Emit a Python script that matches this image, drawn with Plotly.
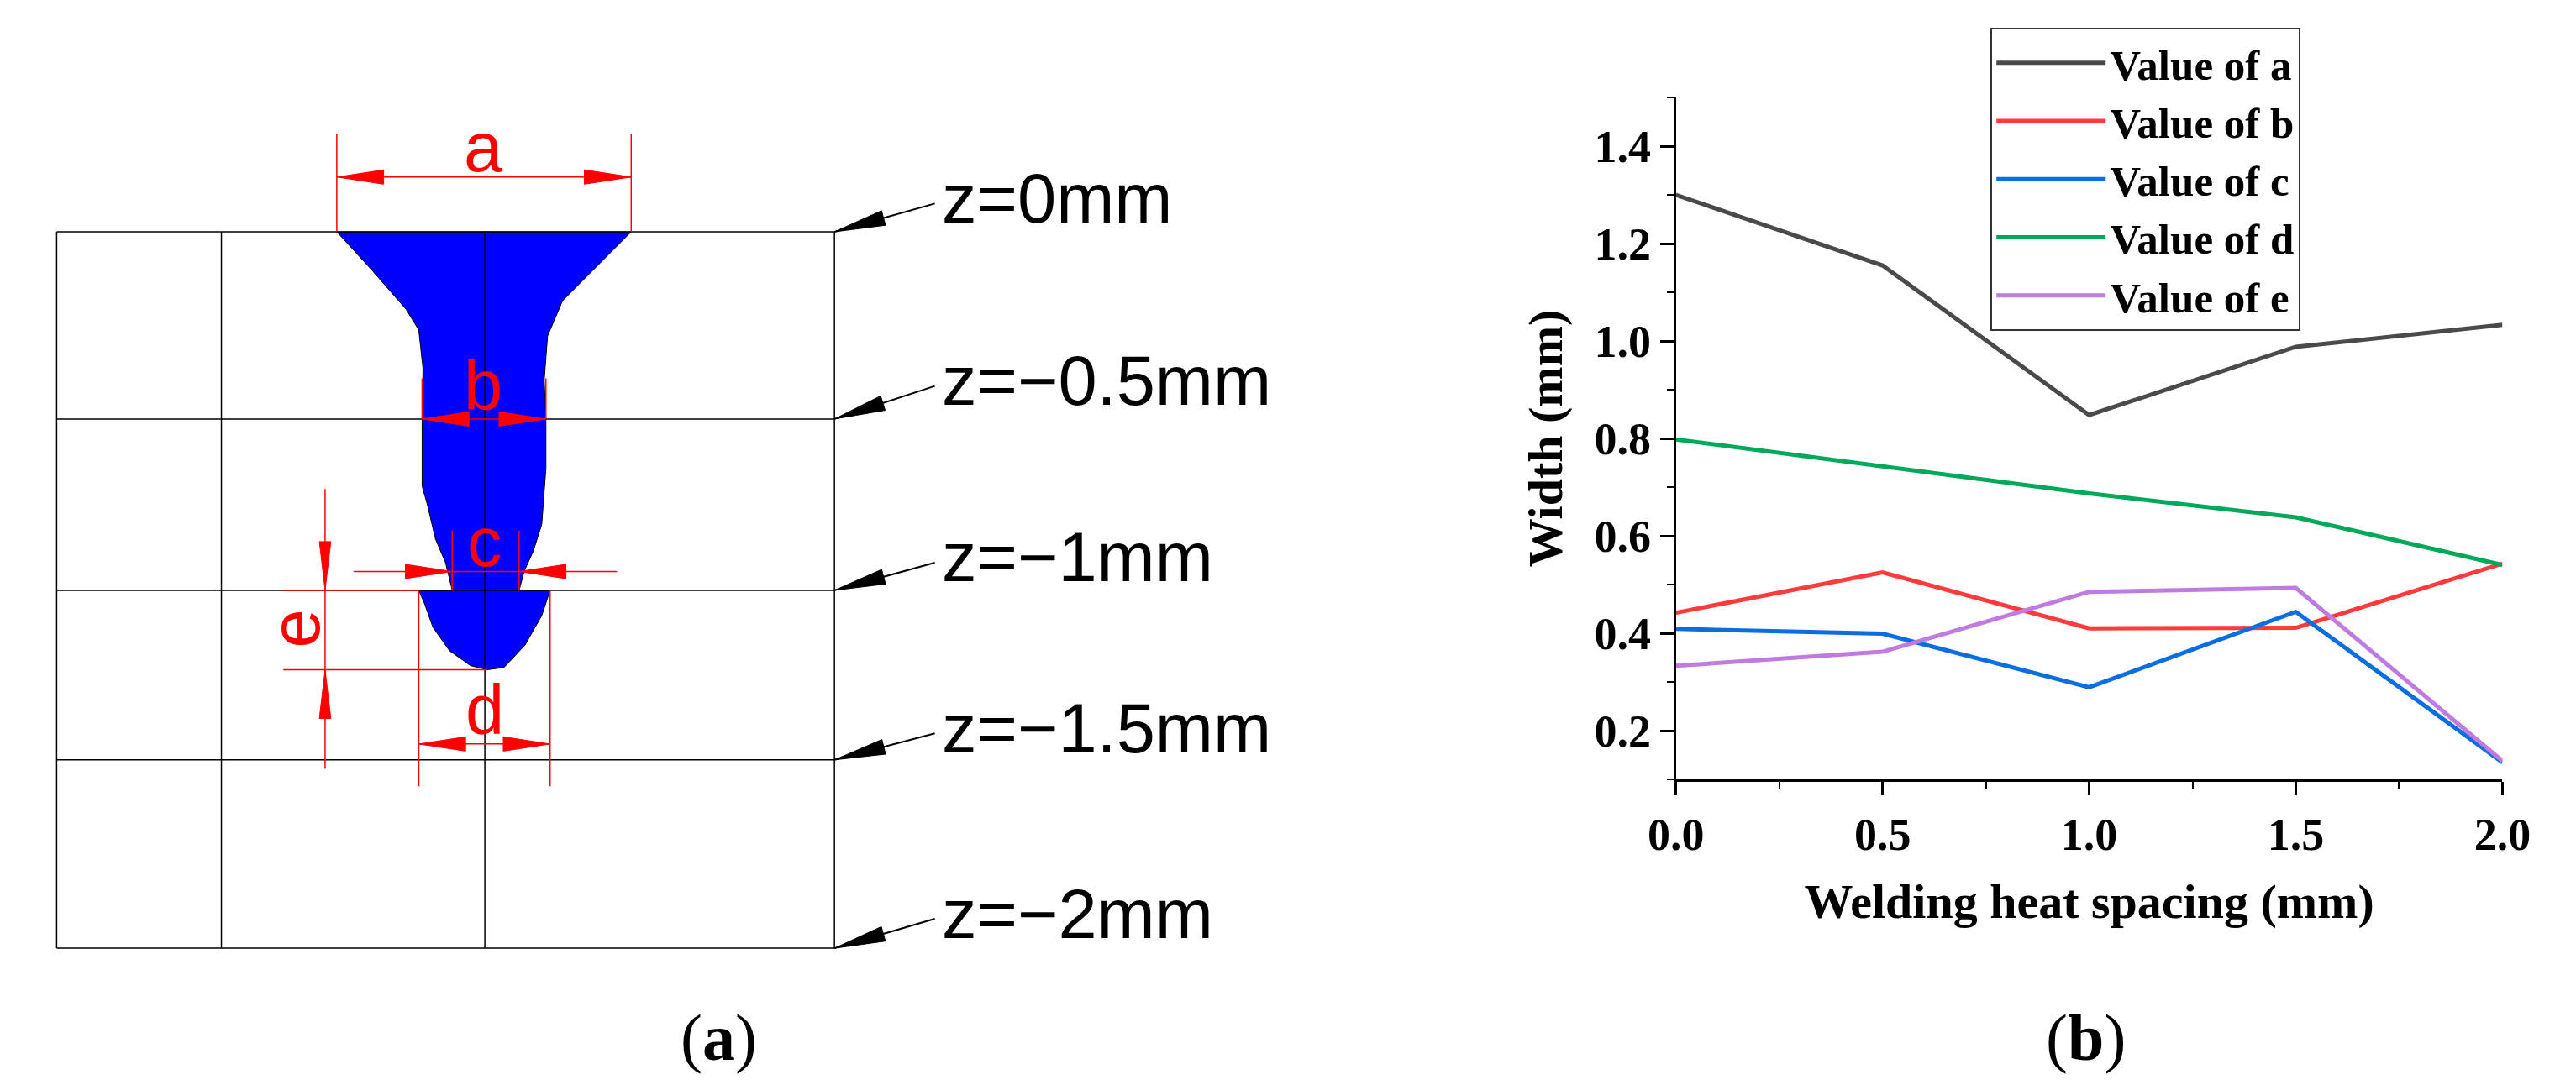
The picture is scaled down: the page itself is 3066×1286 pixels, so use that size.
import math
import plotly.graph_objects as go

# ---- data (panel b) ----
spacing = [0.0, 0.5, 1.0, 1.5, 2.0]
value_a = [1.300, 1.155, 0.848, 0.988, 1.033]
value_b = [0.442, 0.525, 0.410, 0.411, 0.543]
value_c = [0.409, 0.399, 0.289, 0.444, 0.135]
value_d = [0.798, 0.742, 0.687, 0.638, 0.540]
value_e = [0.333, 0.362, 0.485, 0.493, 0.138]
series_names = ["Value of a", "Value of b", "Value of c", "Value of d", "Value of e"]
series_colors = ["#4a4a4a", "#ff3b3b", "#0a6ee0", "#00a85a", "#bf7be0"]
z_labels = ["z=0mm", "z=\u22120.5mm", "z=\u22121mm", "z=\u22121.5mm", "z=\u22122mm"]

W, H = 3066, 1286
SERIF = "Liberation Serif, Times New Roman, serif"
SANS = "Liberation Sans, Arial, sans-serif"

def Z(zx, zy):
    # diagram coordinates -> pixel coordinates
    return 26 + (zx - 25) * 1.018, 268 + (zy - 238) * 0.701

def P(x, y):
    return x / W, 1 - y / H

def path_from(pts, close=True):
    s = ""
    for i, (x, y) in enumerate(pts):
        px, py = P(x, y)
        s += ("M" if i == 0 else "L") + f"{px:.5f},{py:.5f} "
    return s + ("Z" if close else "")

shapes = []
def line(p1, p2, color="black", width=1.5):
    a, b = P(*p1), P(*p2)
    shapes.append(dict(type="line", xref="paper", yref="paper", x0=a[0], y0=a[1], x1=b[0], y1=b[1],
                       line=dict(color=color, width=width), layer="above"))

def tri(tip, tail, length, half, color):
    dx, dy = tail[0] - tip[0], tail[1] - tip[1]
    L = math.hypot(dx, dy); ux, uy = dx / L, dy / L
    bx, by = tip[0] + ux * length, tip[1] + uy * length
    pts = [tip, (bx - uy * half, by + ux * half), (bx + uy * half, by - ux * half)]
    shapes.append(dict(type="path", xref="paper", yref="paper", path=path_from(pts),
                       fillcolor=color, line=dict(color=color, width=1), layer="above"))

# blue weld pool
pool = [(360,238),(712,238),(630,355),(612,415),(608,490),(610,556),(610,640),(605,735),(595,780),
        (584,815),(578,847),(615,847),(605,890),(585,940),(560,978),(540,982),(520,975),(495,950),
        (475,910),(465,870),(458,847),(498,847),(490,800),(478,760),(468,700),(462,670),(462,556),
        (463,470),(458,405),(443,370),(400,300)]
shapes.append(dict(type="path", xref="paper", yref="paper", path=path_from([Z(*p) for p in pool]),
                   fillcolor="#0000ff", line=dict(color="black", width=1), layer="above"))

rows = [238, 556, 847, 1135, 1455]
for r in rows:
    line(Z(25, r), Z(955, r))
for c in [25, 222, 537, 955]:
    line(Z(c, 238), Z(c, 1455))

RED = "#ff0000"
hl, hh = 57, 8.5
line(Z(360, 72), Z(360, 238), RED); line(Z(712, 72), Z(712, 238), RED)
line(Z(360, 145), Z(712, 145), RED)
tri(Z(360, 145), Z(712, 145), hl, hh, RED); tri(Z(712, 145), Z(360, 145), hl, hh, RED)
line(Z(462, 487), Z(462, 556), RED); line(Z(610, 487), Z(610, 556), RED)
line(Z(462, 556), Z(610, 556), RED)
tri(Z(462, 556), Z(610, 556), hl, hh, RED); tri(Z(610, 556), Z(462, 556), hl, hh, RED)
line(Z(498, 745), Z(498, 847), RED); line(Z(578, 745), Z(578, 847), RED)
line(Z(380, 815), Z(695, 815), RED)
tri(Z(498, 815), Z(380, 815), hl, hh, RED); tri(Z(578, 815), Z(695, 815), hl, hh, RED)
line(Z(458, 847), Z(458, 1180), RED); line(Z(615, 847), Z(615, 1180), RED)
line(Z(458, 1108), Z(615, 1108), RED)
tri(Z(458, 1108), Z(615, 1108), hl, hh, RED); tri(Z(615, 1108), Z(458, 1108), hl, hh, RED)
line(Z(296, 847), Z(458, 847), RED); line(Z(296, 982), Z(540, 982), RED)
line(Z(346, 675), Z(346, 1150), RED)
tri(Z(346, 847), Z(346, 675), 58, 7, RED); tri(Z(346, 982), Z(346, 1150), 58, 7, RED)

annotations = []
def text(x, y, s, size, color="black", family=SANS, angle=0, xanchor="center"):
    px, py = P(x, y)
    annotations.append(dict(x=px, y=py, xref="paper", yref="paper", text=s, showarrow=False,
                            font=dict(size=size, color=color, family=family), textangle=angle,
                            xanchor=xanchor, yanchor="middle"))

for lab, (zx, zy) in zip(["a", "b", "c", "d"], [(535, 95), (535, 500), (537, 765), (537, 1050)]):
    x, y = Z(zx, zy); text(x, y, lab, 83, RED)
x, y = Z(310, 912); text(x, y, "e", 83, RED, angle=-90)

for lab, r, ty in zip(z_labels, rows, [190, 500, 800, 1090, 1405]):
    tip = Z(955, r); tail = Z(1075, ty)
    line(tip, tail, "black", 2)
    tri(tip, tail, 62, 9, "black")
    x, y = Z(1085, ty); text(x - 4, y - 6, lab, 83, xanchor="left")

text(832, 1227, "(<b>a</b>)", 78, family=SERIF)
text(2496, 1227, "(<b>b</b>)", 78, family=SERIF)

# ---- panel b ----
fig = go.Figure()
for name, vals, col in zip(series_names, [value_a, value_b, value_c, value_d, value_e], series_colors):
    fig.add_trace(go.Scatter(x=spacing, y=vals, mode="lines", name=f"<b>{name}</b>",
                             line=dict(color=col, width=5)))

axis_common = dict(showgrid=False, zeroline=False, showline=True, linecolor="black", linewidth=3,
                   ticks="outside", ticklen=16, tickwidth=3, tickcolor="black",
                   tickfont=dict(family=SERIF, size=54, color="black"), mirror=False)
fig.update_layout(
    width=W, height=H, margin=dict(l=0, r=0, t=0, b=0),
    paper_bgcolor="white", plot_bgcolor="white",
    shapes=shapes, annotations=annotations,
    xaxis=dict(domain=[1997 / W, 3003 / W], range=[0, 2.0], tickmode="array",
               tickvals=[0, 0.5, 1.0, 1.5, 2.0], ticktext=["<b>0.0</b>", "<b>0.5</b>", "<b>1.0</b>", "<b>1.5</b>", "<b>2.0</b>"],
               minor=dict(dtick=0.25, ticks="outside", ticklen=8, tickwidth=2, tickcolor="black"),
               title=dict(text="<b>Welding heat spacing (mm)</b>", font=dict(family=SERIF, size=58, color="black"),
                          standoff=30),
               **axis_common),
    yaxis=dict(domain=[1 - 920 / H, 1 - 108 / H], range=[0.1, 1.5], tickmode="array",
               tickvals=[0.2, 0.4, 0.6, 0.8, 1.0, 1.2, 1.4],
               ticktext=["<b>0.2</b>", "<b>0.4</b>", "<b>0.6</b>", "<b>0.8</b>", "<b>1.0</b>", "<b>1.2</b>", "<b>1.4</b>"],
               minor=dict(dtick=0.1, ticks="outside", ticklen=8, tickwidth=2, tickcolor="black"),
               title=dict(text="<b>Width (mm)</b>", font=dict(family=SERIF, size=58, color="black"),
                          standoff=20),
               **axis_common),
    legend=dict(x=2380 / W, y=1 - 25 / H, xanchor="left", yanchor="top", bgcolor="white",
                bordercolor="#333333", borderwidth=2, itemwidth=130,
                font=dict(family=SERIF, size=51, color="black"), tracegroupgap=0),
    showlegend=True,
)

fig.write_html("out.html")
